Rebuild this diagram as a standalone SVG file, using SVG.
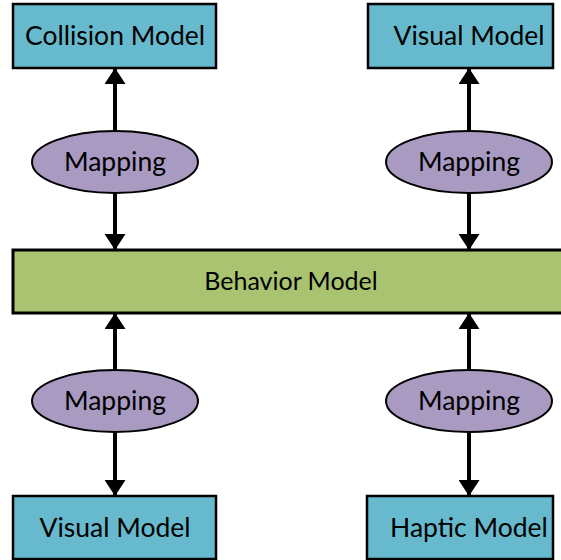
<svg xmlns="http://www.w3.org/2000/svg" width="561" height="560" viewBox="0 0 561 560">
<style>
.box{fill:#67BACD;stroke:#000;stroke-width:2.5}
.beh{fill:#A9C370;stroke:#000;stroke-width:3}
.map{fill:#A99AC2;stroke:#000;stroke-width:2}
.t{font-family:Lato,"Liberation Sans",sans-serif;font-size:26.5px;fill:#000;text-anchor:middle;dominant-baseline:central}
.tb{font-size:25px}
.c{stroke:#000;stroke-width:4;fill:none;marker-end:url(#ah)}
</style>
<defs>
<marker id="ah" markerWidth="16" markerHeight="21" refX="16" refY="10.5" orient="auto" markerUnits="userSpaceOnUse" viewBox="0 0 16 21">
<path d="M0,0 L16,10.5 L0,21 Z" fill="#000"/>
</marker>
</defs>
<g id="connectors">
<line class="c" x1="115" y1="131" x2="115" y2="68"/>
<line class="c" x1="115" y1="193" x2="115" y2="250"/>
<line class="c" x1="469" y1="131" x2="469" y2="68"/>
<line class="c" x1="469" y1="193" x2="469" y2="250"/>
<line class="c" x1="115" y1="370" x2="115" y2="313"/>
<line class="c" x1="115" y1="432" x2="115" y2="496"/>
<line class="c" x1="469" y1="370" x2="469" y2="313"/>
<line class="c" x1="469" y1="432" x2="469" y2="496"/>
</g>
<g id="collision-model"><rect class="box" x="13" y="4" width="203" height="64"/><text class="t" x="115" y="35">Collision Model</text></g>
<g id="visual-model-top"><rect class="box" x="368" y="4" width="185" height="64"/><text class="t" x="469" y="35">Visual Model</text></g>
<g id="mapping-tl"><ellipse class="map" cx="115" cy="162" rx="83" ry="31"/><text class="t" x="115" y="161">Mapping</text></g>
<g id="mapping-tr"><ellipse class="map" cx="469" cy="162" rx="83" ry="31"/><text class="t" x="469" y="161">Mapping</text></g>
<g id="behavior-model"><rect class="beh" x="13" y="250" width="560" height="63"/><text class="t tb" x="291" y="280">Behavior Model</text></g>
<g id="mapping-bl"><ellipse class="map" cx="115" cy="401" rx="83" ry="31"/><text class="t" x="115" y="400">Mapping</text></g>
<g id="mapping-br"><ellipse class="map" cx="469" cy="401" rx="83" ry="31"/><text class="t" x="469" y="400">Mapping</text></g>
<g id="visual-model-bottom"><rect class="box" x="13" y="496" width="203" height="63"/><text class="t" x="115" y="527">Visual Model</text></g>
<g id="haptic-model"><rect class="box" x="367" y="496" width="186" height="63"/><text class="t" x="469" y="527">Haptic Model</text></g>
</svg>
